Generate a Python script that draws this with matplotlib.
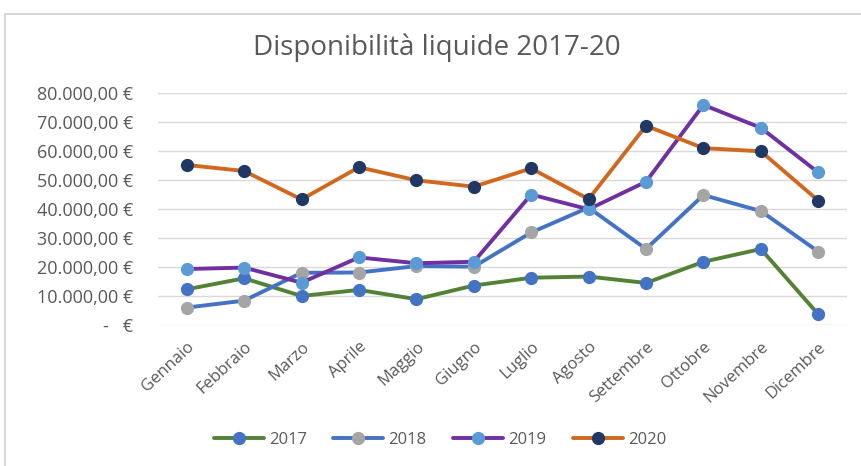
import numpy as np
import matplotlib.pyplot as plt
from matplotlib.patches import Rectangle

mesi = ["Gennaio", "Febbraio", "Marzo", "Aprile", "Maggio", "Giugno",
        "Luglio", "Agosto", "Settembre", "Ottobre", "Novembre", "Dicembre"]

v2017 = [12300, 16100, 10000, 12100, 8900, 13600, 16300, 16700, 14500, 21800, 26200, 3700]
v2018 = [6000, 8400, 18000, 18100, 20300, 20100, 31900, 40500, 26200, 44800, 39300, 25300]
v2019 = [19300, 19800, 14600, 23300, 21300, 21800, 45000, 39900, 49400, 75900, 68000, 52600]
v2020 = [55200, 53100, 43300, 54400, 49900, 47700, 54000, 43400, 68700, 61000, 59900, 42900]

serie = [("2017", v2017, "#548235", "#4472C4"),
         ("2018", v2018, "#4472C4", "#A5A5A5"),
         ("2019", v2019, "#7030A0", "#5B9BD5"),
         ("2020", v2020, "#D0691F", "#1F3864")]

plt.rcParams['font.family'] = ['Open Sans', 'DejaVu Sans']

fig = plt.figure(figsize=(8.61, 4.66), dpi=100)
ax = fig.add_axes([0.1835, 0.3026, 0.8002, 0.4978])

# cornice del grafico
fig.patches.append(Rectangle((5 / 861, -0.1), 1.2, 1.1 - 14 / 466, transform=fig.transFigure,
                             fill=False, edgecolor="#D0D0D0", lw=1.2))

x = np.arange(len(mesi))
for nome, vals, col_linea, col_marker in serie:
    ax.plot(x, vals, color=col_linea, lw=2.8, marker='o', ms=8.5,
            markerfacecolor=col_marker, markeredgecolor=col_marker, label=nome,
            solid_capstyle='round')

ax.set_xlim(-0.5, len(mesi) - 0.5)
ax.set_ylim(0, 80000)
ax.set_yticks(np.arange(0, 80001, 10000))


def fmt_euro(v):
    if v == 0:
        return "-   €"
    return "{:,.2f} €".format(v).replace(",", "X").replace(".", ",").replace("X", ".")


ax.set_yticklabels([fmt_euro(v) for v in ax.get_yticks()])
ax.set_xticks(x)
ax.set_xticklabels(mesi, rotation=43, ha='right', rotation_mode='anchor')
ax.tick_params(axis='both', length=0, labelsize=12, colors="#595959")
ax.tick_params(axis='y', pad=18, labelsize=13)
ax.tick_params(axis='x', pad=10)
ax.grid(axis='y', color="#D9D9D9", lw=1)
ax.set_axisbelow(True)
for s in ax.spines.values():
    s.set_visible(False)

fig.text(0.507, 0.897, "Disponibilità liquide 2017-20", ha='center', va='center',
         fontsize=20, color="#595959")

fig.legend(loc='center', bbox_to_anchor=(440 / 861, 1 - 440 / 466),
           ncol=4, frameon=False, fontsize=12, labelcolor="#595959",
           handlelength=3.0, handletextpad=0.3, columnspacing=1.6)

fig.savefig("out.png", dpi=100)
